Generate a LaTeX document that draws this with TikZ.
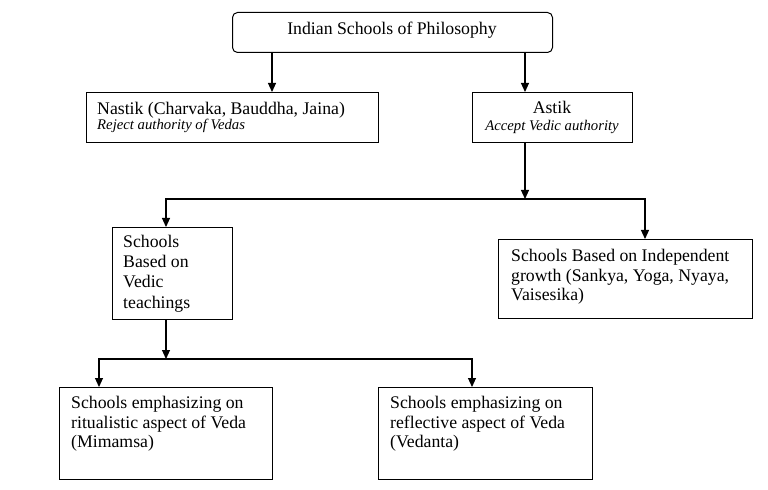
\documentclass[tikz,border=0pt]{standalone}
\usepackage{fontspec}
\setmainfont{Liberation Serif}
\usetikzlibrary{arrows.meta}
\begin{document}
\begin{tikzpicture}[x=1bp,y=-1bp,
  box/.style={draw, line width=1bp, inner sep=0, anchor=north west},
  arr/.style={line width=1.1bp, -{Triangle[length=9bp,width=8bp]}},
  ln/.style={anchor=base west, inner sep=0, font=\fontsize{17.8}{20}\selectfont},
  it/.style={anchor=base, inner sep=0, font=\fontsize{14.8}{16}\selectfont\itshape},
]
\useasboundingbox[fill=white] (0,0) rectangle (768,490);

% boxes
\node[box, rounded corners=5bp, minimum width=320bp, minimum height=40bp] (title) at (232,12) {};
\node[box, minimum width=292bp, minimum height=50bp] (nastik) at (86,92) {};
\node[box, minimum width=160bp, minimum height=50bp] (astik) at (472,92) {};
\node[box, minimum width=120bp, minimum height=92bp] (vedic) at (112,227) {};
\node[box, minimum width=254bp, minimum height=79bp] (indep) at (498,239) {};
\node[box, minimum width=213bp, minimum height=92bp] (ritual) at (59,387) {};
\node[box, minimum width=214bp, minimum height=92bp] (reflect) at (378,387) {};

% texts
\node[ln, anchor=base] (t0) at (392,35) {Indian Schools of Philosophy};
\node[ln] (t1) at (97,115) {Nastik (Charvaka, Bauddha, Jaina)};
\node[it, anchor=base west] (t2) at (97,130) {Reject authority of Vedas};
\node[ln, anchor=base] (t3) at (552,114) {Astik};
\node[it] (t4) at (552,131) {Accept Vedic authority};

\node[ln] (v1) at (123,248) {Schools};
\node[ln] (v2) at (123,268) {Based on};
\node[ln] (v3) at (123,288) {Vedic};
\node[ln] (v4) at (123,308) {teachings};

\node[ln] (i1) at (511,262) {Schools Based on Independent};
\node[ln] (i2) at (511,282) {growth (Sankya, Yoga, Nyaya,};
\node[ln] (i3) at (511,301) {Vaisesika)};

\node[ln] (r1) at (71,408) {Schools emphasizing on};
\node[ln] (r2) at (71,428) {ritualistic aspect of Veda};
\node[ln] (r3) at (71,447) {(Mimamsa)};

\node[ln] (f1) at (390,408) {Schools emphasizing on};
\node[ln] (f2) at (390,428) {reflective aspect of Veda};
\node[ln] (f3) at (390,447) {(Vedanta)};

% connector positions
\coordinate (xa) at (272,0);
\coordinate (xb) at (525,0);
\coordinate (xc) at (166,0);
\coordinate (xd) at (645,0);
\coordinate (xe) at (99,0);
\coordinate (xf) at (472,0);
\coordinate (j1) at (525,199);
\coordinate (j2) at (166,359);

% connectors
\draw[arr] (title.south -| xa) -- (nastik.north -| xa);
\draw[arr] (title.south -| xb) -- (astik.north -| xb);
\draw[arr] (astik.south -| xb) -- (j1);
\draw[arr] (j1) -| (vedic.north -| xc);
\draw[arr] (j1) -| (indep.north -| xd);
\draw[arr] (vedic.south -| xc) -- (j2);
\draw[arr] (j2) -| (ritual.north -| xe);
\draw[arr] (j2) -| (reflect.north -| xf);
\end{tikzpicture}
\end{document}
